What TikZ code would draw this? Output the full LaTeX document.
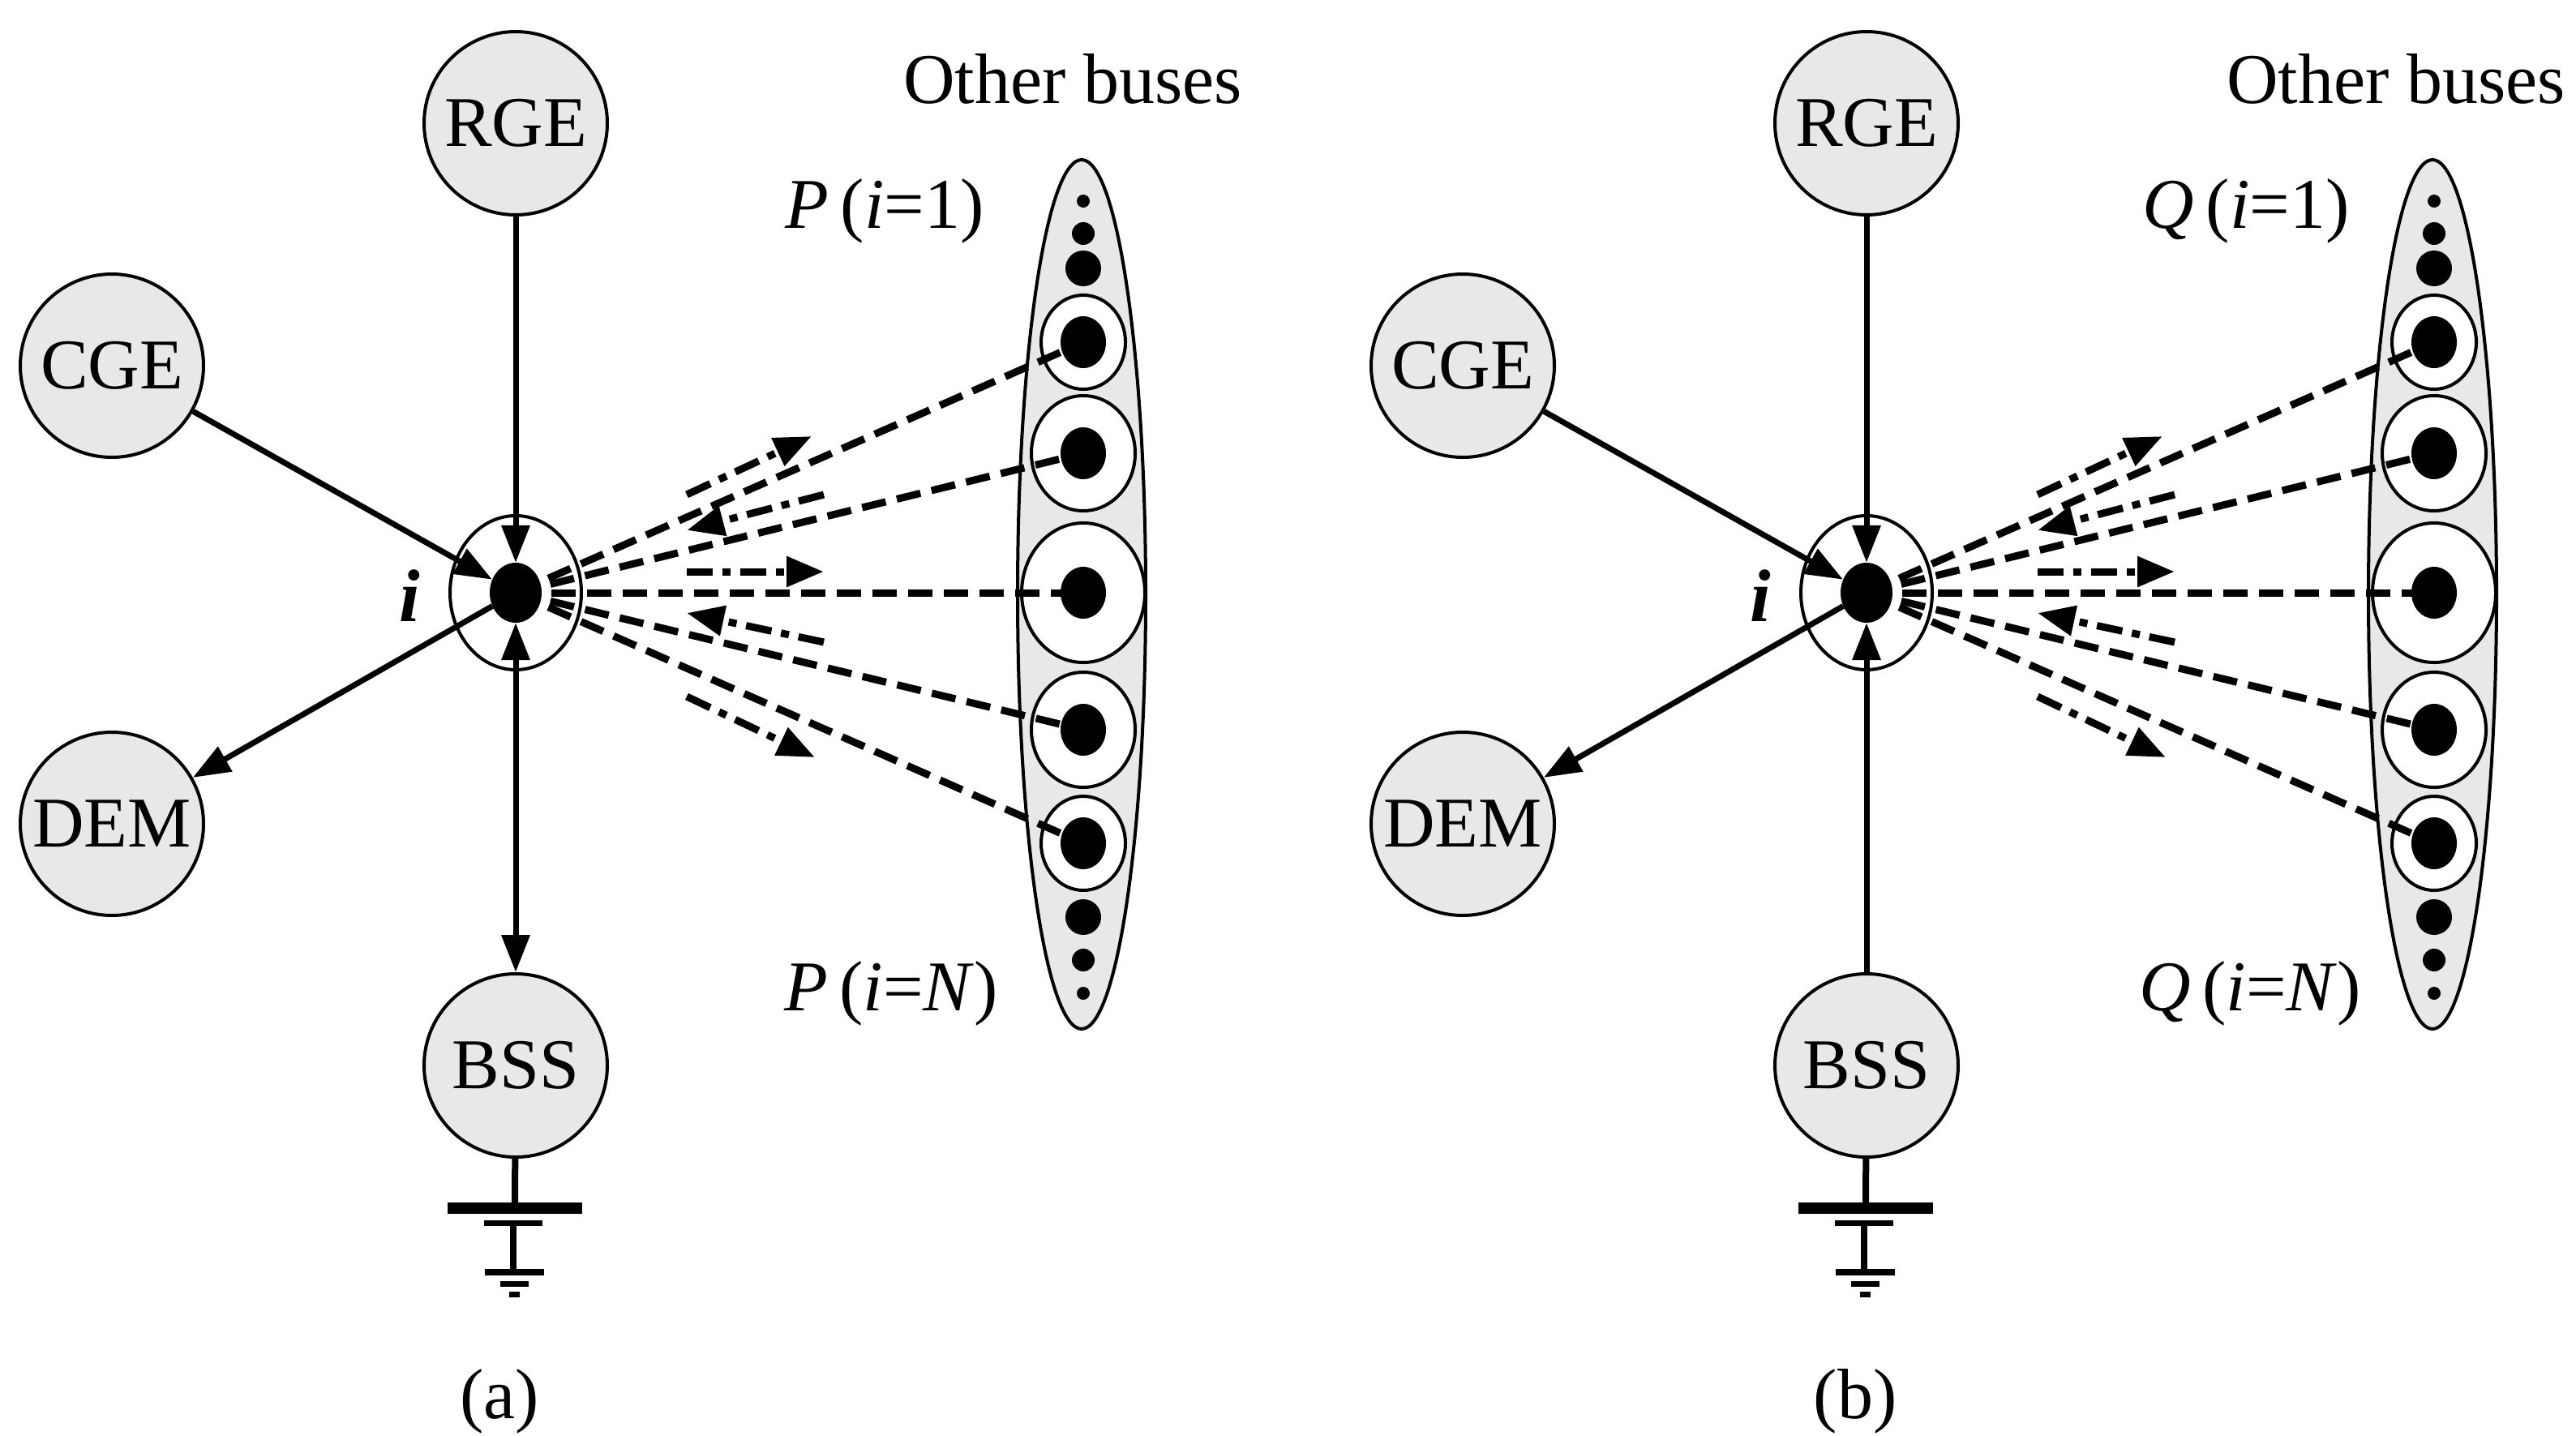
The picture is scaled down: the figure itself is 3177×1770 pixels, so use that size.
\documentclass[tikz,border=0pt]{standalone}
\usepackage{fontspec}
\setmainfont{Liberation Serif}
\usetikzlibrary{arrows.meta,shapes.geometric}
\definecolor{fillg}{gray}{0.91}
\tikzset{
 ent/.style={circle,draw,line width=4pt,fill=fillg,minimum size=226pt,inner sep=0pt,font=\fontsize{88}{96}\selectfont},
 ring/.style={ellipse,draw,line width=4pt,fill=white,inner sep=0pt},
 bdot/.style={ellipse,fill=black,minimum width=56pt,minimum height=64pt,inner sep=0pt},
 sdot/.style={circle,fill=black,inner sep=0pt},
 tip/.style={-{Triangle[length=46pt,width=34pt]}},
 sol/.style={line width=7pt},
 dsh/.style={line width=9pt,dash pattern=on 30pt off 14pt},
 dd/.style={line width=9pt,dash pattern=on 32pt off 12pt on 10pt off 12pt,-{Triangle[length=46pt,width=36pt]}},
 lab/.style={font=\fontsize{88}{96}\selectfont},
}
\newcommand\mypanel[3]{%
\begin{scope}[xshift=#1]
 \node[ent] (#2rge) at (636,152) {RGE};
 \node[ent] (#2cge) at (138,451) {CGE};
 \node[ent] (#2dem) at (138,1016) {DEM};
 \node[ent] (#2bss) at (636,1314) {BSS};
 \node[ellipse,draw,line width=4pt,fill=white,minimum width=162pt,minimum height=190pt] (#2io) at (636,731) {};
 \node[ellipse,draw,line width=4pt,fill=fillg,minimum width=158pt,minimum height=1072pt] (#2bus) at (1334,733) {};
 \node[ring,minimum width=104pt,minimum height=116pt] (#2r1) at (1336,422) {};
 \node[ring,minimum width=128pt,minimum height=142pt] (#2r2) at (1336,559) {};
 \node[ring,minimum width=152pt,minimum height=172pt] (#2r3) at (1336,731) {};
 \node[ring,minimum width=128pt,minimum height=142pt] (#2r4) at (1336,900) {};
 \node[ring,minimum width=104pt,minimum height=116pt] (#2r5) at (1336,1040) {};
 \node[sdot,minimum size=16pt] (#2s1) at (1336,248) {};
 \node[sdot,minimum size=28pt] (#2s2) at (1336,288) {};
 \node[sdot,minimum size=44pt] (#2s3) at (1336,331) {};
 \node[sdot,minimum size=44pt] (#2s4) at (1336,1131) {};
 \node[sdot,minimum size=28pt] (#2s5) at (1336,1184) {};
 \node[sdot,minimum size=16pt] (#2s6) at (1336,1225) {};
 \foreach \k in {1,...,5}{\draw[dsh] (#2io.center) -- (#2r\k.center);}
 \foreach \k in {1,...,5}{\node[bdot] (#2d\k) at (#2r\k.center) {};}
 \node[bdot,minimum width=64pt,minimum height=74pt] (#2i) at (636,731) {};
 \draw[sol,tip] (#2rge) -- (#2i);
 \draw[sol,tip] (#2cge) -- (#2i);
 \draw[sol,tip] (#2i) -- (#2dem);
 #3
 \coordinate (#2a1) at (847,610); \coordinate (#2b1) at (1001,538);
 \coordinate (#2a2) at (1016,610); \coordinate (#2b2) at (847,654);
 \coordinate (#2a3) at (847,705); \coordinate (#2b3) at (1016,705);
 \coordinate (#2a4) at (1016,792); \coordinate (#2b4) at (847,756);
 \coordinate (#2a5) at (847,859); \coordinate (#2b5) at (1005,934);
 \foreach \k in {1,...,5}{\draw[dd] (#2a\k) -- (#2b\k);}
 \coordinate (#2g0) at (635,1483);
 \draw[line width=8pt] (#2bss) -- (#2g0);
 \fill (552,1483) rectangle (718,1497);
 \fill (597,1505) rectangle (669,1512);
 \draw[line width=8pt] (633,1505) -- (633,1568);
 \fill (598,1565) rectangle (671,1573);
 \fill (617,1580) rectangle (652,1587);
 \fill (628,1593) rectangle (641,1600);
 \node[lab,font=\fontsize{92}{96}\selectfont\bfseries\itshape] (#2il) at (505,735) {i};
\end{scope}}
\begin{document}
\begin{tikzpicture}[x=1pt,y=-1pt]
\useasboundingbox (0,0) rectangle (3177,1770);
\mypanel{0}{a}{\draw[sol,{Triangle[length=46pt,width=34pt]}-{Triangle[length=46pt,width=34pt]}] (ai) -- (abss);}
\mypanel{1666}{b}{\draw[sol,tip] (bbss) -- (bi);}
\node[lab] (ob1) at (1323,97) {Other buses};
\node[lab] (ob2) at (2955,97) {Other buses};
\node[lab] (p1) at (1091,260) {\textit{P}\,(\textit{i}=1)};
\node[lab] (pn) at (1099,1225) {\textit{P}\,(\textit{i}=\textit{N})};
\node[lab] (q1) at (2770,260) {\textit{Q}\,(\textit{i}=1)};
\node[lab] (qn) at (2775,1225) {\textit{Q}\,(\textit{i}=\textit{N})};
\node[lab] (ca) at (616,1728) {(a)};
\node[lab] (cb) at (2288,1728) {(b)};
\end{tikzpicture}
\end{document}
